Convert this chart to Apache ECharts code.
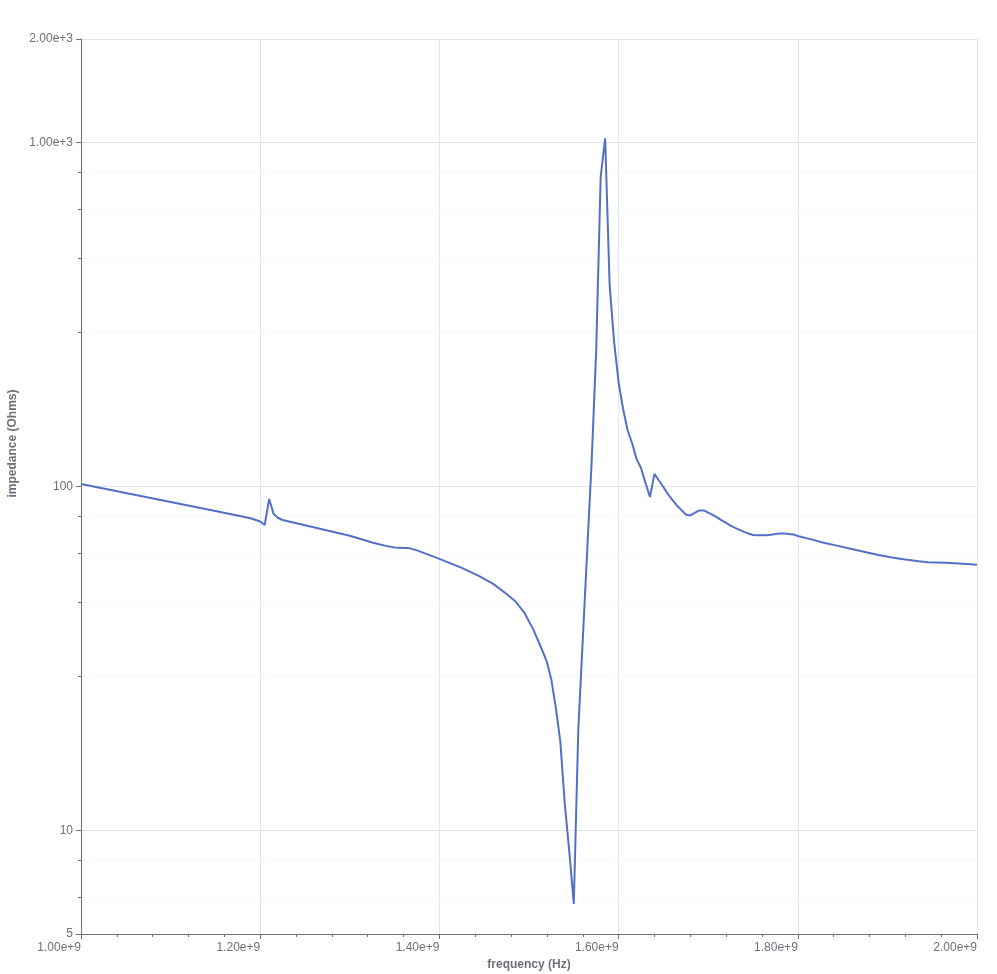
<!DOCTYPE html>
<html>
<head>
<meta charset="utf-8">
<script src="https://cdn.jsdelivr.net/npm/echarts@6/dist/echarts.min.js"></script>
<style>html,body{margin:0;padding:0;background:#fff;}#chart{width:997px;height:974px;}</style>
</head>
<body>
<div id="chart"></div>
<script>
// frequency samples (Hz)
var frequency = [
  1.000e9, 1.050e9, 1.100e9, 1.150e9, 1.180e9, 1.190e9, 1.195e9, 1.200e9, 1.205e9, 1.210e9,
  1.215e9, 1.220e9, 1.225e9, 1.250e9, 1.300e9, 1.325e9, 1.340e9, 1.350e9, 1.360e9, 1.365e9,
  1.375e9, 1.400e9, 1.425e9, 1.445e9, 1.460e9, 1.475e9, 1.485e9, 1.495e9, 1.505e9, 1.515e9,
  1.520e9, 1.525e9, 1.530e9, 1.535e9, 1.540e9, 1.545e9, 1.550e9, 1.555e9, 1.560e9, 1.565e9,
  1.570e9, 1.575e9, 1.580e9, 1.585e9, 1.590e9, 1.595e9, 1.600e9, 1.605e9, 1.610e9, 1.615e9,
  1.620e9, 1.625e9, 1.630e9, 1.635e9, 1.640e9, 1.645e9, 1.650e9, 1.655e9, 1.660e9, 1.665e9,
  1.670e9, 1.675e9, 1.680e9, 1.685e9, 1.690e9, 1.695e9, 1.700e9, 1.705e9, 1.710e9, 1.715e9,
  1.720e9, 1.725e9, 1.730e9, 1.735e9, 1.740e9, 1.745e9, 1.750e9, 1.755e9, 1.760e9, 1.765e9,
  1.770e9, 1.775e9, 1.780e9, 1.785e9, 1.790e9, 1.795e9, 1.800e9, 1.815e9, 1.830e9, 1.845e9,
  1.860e9, 1.875e9, 1.890e9, 1.905e9, 1.920e9, 1.935e9, 1.945e9, 1.965e9, 1.985e9, 2.000e9
];
// impedance magnitude (Ohms)
var impedance = [
  101.7, 95.8, 90.2, 84.9, 81.8, 80.7, 79.9, 79.1, 77.3, 92.0,
  83.2, 81.0, 79.9, 77.2, 71.9, 68.7, 67.2, 66.5, 66.3, 66.3,
  65.2, 61.6, 58.0, 54.8, 52.1, 48.7, 46.3, 42.9, 38.3, 33.3,
  30.9, 27.4, 22.7, 18.1, 11.9, 8.66, 6.12, 19.6, 35.8, 65.4,
  119.5, 249, 796, 1029, 385, 263, 201, 168, 146, 133.8,
  120.3, 113.2, 102.4, 93.2, 108.8, 104.1, 99.7, 95.1, 91.4, 88.1,
  85.5, 82.9, 82.4, 83.8, 85.2, 85.2, 84.0, 82.7, 81.3, 79.7,
  78.4, 77.0, 75.8, 74.8, 73.8, 73.0, 72.3, 72.1, 72.1, 72.1,
  72.4, 72.8, 73.0, 73.0, 72.8, 72.5, 71.8, 70.2, 68.5, 67.2,
  65.8, 64.5, 63.2, 62.2, 61.3, 60.6, 60.2, 60.0, 59.6, 59.2
];
var xTicks = { min: 1.0e9, max: 2.0e9, interval: 2.0e8 };
var yRange = { min: 5, max: 2000 };

var points = frequency.map(function (f, i) { return [f, impedance[i]]; });

var chart = echarts.init(document.getElementById('chart'), null, { renderer: 'canvas' });
chart.setOption({
  animation: false,
  backgroundColor: '#ffffff',
  grid: { left: 81, right: 20, top: 39, bottom: 40, containLabel: false, outerBoundsMode: 'none' },
  xAxis: {
    type: 'value',
    min: xTicks.min, max: xTicks.max, interval: xTicks.interval,
    name: 'frequency (Hz)', nameLocation: 'middle', nameGap: 24,
    nameTextStyle: { fontWeight: 'bold', fontSize: 12, color: '#6e7079' },
    axisLine: { show: true, onZero: false, lineStyle: { color: '#6e7079' } },
    axisTick: { show: true },
    minorTick: { show: true },
    splitLine: { show: true, lineStyle: { color: '#E0E6F1' } },
    axisLabel: { color: '#6e7079', fontSize: 12, align: 'right', formatter: function (v) { return v.toExponential(2); } }
  },
  yAxis: {
    type: 'log', logBase: 10,
    min: yRange.min, max: yRange.max,
    name: 'impedance (Ohms)', nameLocation: 'middle', nameGap: 62,
    nameTextStyle: { fontWeight: 'bold', fontSize: 12, color: '#6e7079', padding: [0, 0, 0, 86] },
    axisLine: { show: true, lineStyle: { color: '#6e7079' } },
    axisTick: { show: true },
    minorTick: { show: true },
    minorSplitLine: { show: true, lineStyle: { color: '#F4F7FD' } },
    splitLine: { show: true, lineStyle: { color: '#E0E6F1' } },
    axisLabel: {
      color: '#6e7079', fontSize: 12, showMinLabel: true, showMaxLabel: true,
      formatter: function (v) {
        var r = Math.round(v * 1000) / 1000;
        return r >= 1000 ? r.toExponential(2) : String(Math.round(r));
      }
    }
  },
  series: [{
    type: 'line',
    data: points,
    showSymbol: false,
    symbol: 'none',
    lineStyle: { color: '#5470c6', width: 2 },
    itemStyle: { color: '#5470c6' }
  }]
});
</script>
</body>
</html>
